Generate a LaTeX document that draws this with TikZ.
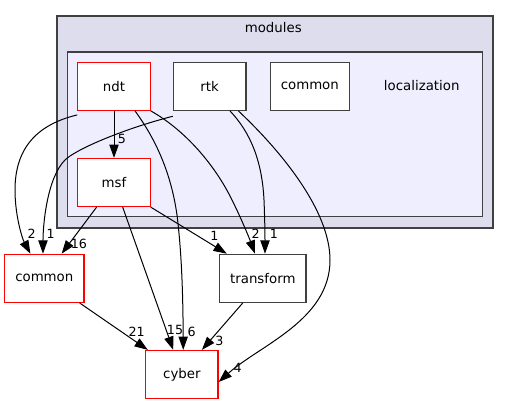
\documentclass[tikz,border=0pt]{standalone}
\usepackage{fontspec}
\setmainfont{DejaVu Sans}
\usetikzlibrary{arrows.meta}
\definecolor{clusterline}{HTML}{404040}
\definecolor{modulesfill}{HTML}{DDDDEE}
\definecolor{locfill}{HTML}{EEEEFF}
\definecolor{dirred}{HTML}{FF0000}

\begin{document}
\begin{tikzpicture}[x=0.75pt,y=0.75pt,yscale=-1,xscale=1,
	dirbox/.style={draw=#1, fill=white, line width=0.9pt, minimum height=36pt, inner sep=0pt, font=\fontsize{10}{12}\selectfont},
	dep/.style={line width=0.75pt, -{Triangle[length=10pt,width=7pt]}},
	deplabel/.style={inner sep=0pt, font=\fontsize{9.5}{11}\selectfont}]
	\useasboundingbox (0,0) rectangle (509,404);
	% clusters
	\draw [draw=clusterline, fill=modulesfill, line width=0.9pt] (57,16) rectangle (493,228);
	\draw [draw=clusterline, fill=locfill, line width=0.9pt] (67.3,52) rectangle (482.3,216.7);
	\node [inner sep=0pt, font=\fontsize{10}{12}\selectfont] (modules) at (273.3,27.3) {modules};
	\node [inner sep=0pt, font=\fontsize{10}{12}\selectfont] (localization) at (421.7,85.7) {localization};
	% directories
	\node [dirbox=dirred, minimum width=54.2pt] (ndt) at (114,86.3) {ndt};
	\node [dirbox=clusterline, minimum width=54.5pt] (rtk) at (209.7,86.3) {rtk};
	\node [dirbox=clusterline, minimum width=59.3pt] (loccommon) at (309.8,86.3) {common};
	\node [dirbox=dirred, minimum width=54.2pt] (msf) at (114,182.5) {msf};
	\node [dirbox=dirred, minimum width=59.5pt] (common) at (44.3,278.3) {common};
	\node [dirbox=clusterline, minimum width=64.7pt] (transform) at (262.8,278.3) {transform};
	\node [dirbox=dirred, minimum width=54.2pt] (cyber) at (181.9,374.5) {cyber};
	% dependencies
	\draw [dep] (ndt) -- (msf);
	\draw [dep] ([yshift=3pt]ndt.south west) .. controls (35,125) and (15,150) .. (15,190) .. controls (15,215) and (22,238) .. ([xshift=-10.4pt]common.north);
	\draw [dep] ([yshift=4pt]rtk.south west) .. controls (120,130) and (75,150) .. (65,160) .. controls (47,178) and (43,225) .. ([xshift=-1pt]common.north);
	\draw [dep] ([xshift=-13pt]msf.south) -- ([xshift=13pt]common.north);
	\draw [dep] ([xshift=6.5pt]msf.south) -- ([xshift=-6.5pt]cyber.north);
	\draw [dep] ([xshift=15.75pt]ndt.south) .. controls (160,145) and (172,180) .. (177,215) .. controls (182,255) and (183,300) .. ([xshift=1pt]cyber.north);
	\draw [dep] (ndt.south east) .. controls (185,130) and (215,165) .. (232,200) .. controls (242,220) and (250,240) .. ([xshift=-5.85pt]transform.north);
	\draw [dep] ([xshift=15.2pt]rtk.south) .. controls (250,132) and (262,160) .. (264,200) .. controls (265,225) and (265,240) .. ([xshift=1.65pt]transform.north);
	\draw [dep] ([xshift=21.5pt]rtk.south) .. controls (280,150) and (330,210) .. (330,260) .. controls (330,320) and (260,345) .. ([yshift=5.6pt]cyber.east);
	\draw [dep] (msf.south east) -- ([xshift=-27pt]transform.north);
	\draw [dep] ([xshift=-3.75pt]common.south east) -- ([xshift=2pt]cyber.north west);
	\draw [dep] ([xshift=-15pt]transform.south) -- ([xshift=15pt]cyber.north);
	% counts
	\node [deplabel] (n-ndt-msf) at (122,138.5) {5};
	\node [deplabel] (n-ndt-common) at (31.7,233.5) {2};
	\node [deplabel] (n-rtk-common) at (50.7,233.5) {1};
	\node [deplabel] (n-msf-common) at (79,243.5) {16};
	\node [deplabel] (n-msf-transform) at (214.5,236) {1};
	\node [deplabel] (n-ndt-transform) at (255.7,233.5) {2};
	\node [deplabel] (n-rtk-transform) at (274,234) {1};
	\node [deplabel] (n-common-cyber) at (136.7,331.5) {21};
	\node [deplabel] (n-msf-cyber) at (175,329.5) {15};
	\node [deplabel] (n-ndt-cyber) at (191.7,331.5) {6};
	\node [deplabel] (n-transform-cyber) at (219.5,340.7) {3};
	\node [deplabel] (n-rtk-cyber) at (237.7,368.3) {4};
\end{tikzpicture}
\end{document}
